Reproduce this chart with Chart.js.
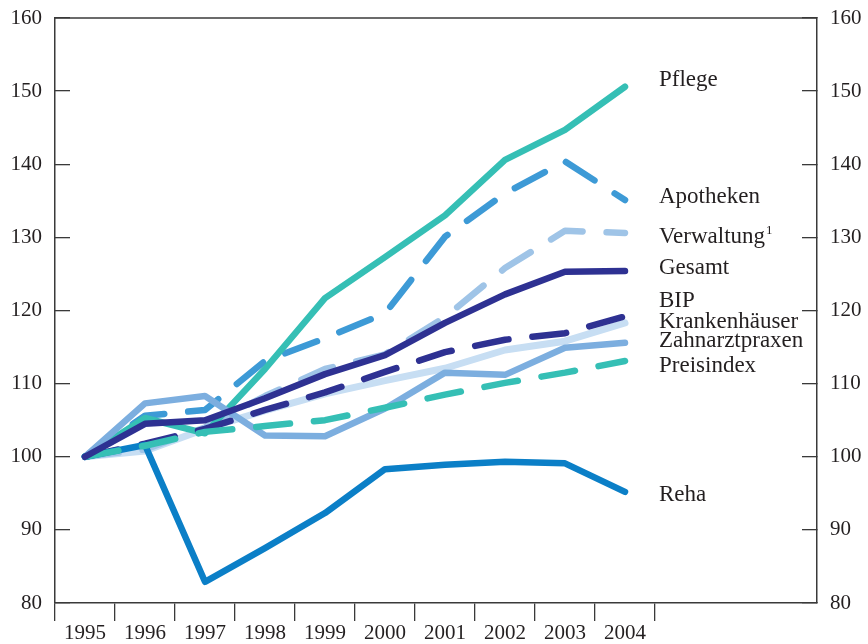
<!DOCTYPE html>
<html><head><meta charset="utf-8">
<script src="https://cdn.jsdelivr.net/npm/chart.js@4"></script>
<style>html,body{margin:0;padding:0;background:#fff}#wrap{width:868px;height:644px}</style>
</head><body><div id="wrap"><canvas id="c" width="868" height="644"></canvas></div>
<script>
const years = [1995,1996,1997,1998,1999,2000,2001,2002,2003,2004];
const pflege        = [100,105.3,103.2,112.0,121.7,127.3,133.0,140.6,144.7,150.6];
const apotheken     = [100,105.6,106.4,113.1,116.2,119.6,130.1,136.0,140.4,135.1];
const verwaltung    = [100,101.0,104.0,108.3,112.0,114.0,119.1,125.8,130.9,130.6];
const gesamt        = [100,104.5,105.0,108.0,111.3,113.9,118.3,122.2,125.3,125.4];
const bip           = [100,101.8,103.8,106.4,108.8,111.6,114.3,116.0,116.9,119.2];
const krankenhaeuser= [100,100.8,103.8,106.3,108.6,110.4,112.1,114.6,115.8,118.3];
const zahnarzt      = [100,107.3,108.3,102.9,102.8,106.6,111.5,111.2,114.9,115.6];
const preisindex    = [100,101.5,103.4,104.2,105.0,106.7,108.5,110.1,111.5,113.1];
const reha          = [100,101.6,82.9,87.5,92.3,98.3,98.9,99.3,99.1,95.2];

const yTicks = [80,90,100,110,120,130,140,150,160];
const labelNames   = ['Pflege','Apotheken','Verwaltung','Gesamt','BIP','Krankenhäuser','Zahnarztpraxen','Preisindex','Reha'];
const labelSups    = ['','','1','','','','','',''];
const labelAnchors = [151.5,135.5,130.0,125.8,121.3,118.4,115.8,112.4,94.8];

const C = {
  teal:'#35bfb5', blue:'#3d9ad6', vlight:'#9fc4e7', navy:'#2e3192',
  xlight:'#c7def3', mlight:'#7caedf', reha:'#0b7fc7'
};
const TEXT = '#231f20', AXIS = '#3a3a3a';
const DASH = [34, 24];

function pts(arr){ return years.map((x,i)=>({x:x, y:arr[i]})); }
function ds(label, arr, color, dashed, width){
  return {label, data: pts(arr), borderColor: color, backgroundColor: color,
    borderWidth: width || 6.5, borderDash: dashed ? DASH : [], pointRadius: 0,
    borderCapStyle: 'round', borderJoinStyle: 'round', tension: 0, fill: false};
}

const tickFont = {family:'"Liberation Serif", "Times New Roman", serif', size:21};
function noPad(s){ s.paddingTop = 0; s.paddingBottom = 0; s.paddingLeft = 0; s.paddingRight = 0; }

const framePlugin = {
  id:'frame',
  beforeDatasetsDraw(chart){
    const {ctx, chartArea:a} = chart;
    ctx.save();
    ctx.strokeStyle = AXIS; ctx.lineWidth = 1.5;
    ctx.beginPath(); ctx.moveTo(a.left, a.top); ctx.lineTo(a.right, a.top); ctx.stroke();
    ctx.restore();
  }
};
const labelPlugin = {
  id:'endLabels',
  afterDatasetsDraw(chart){
    const {ctx} = chart;
    const xs = chart.scales.x, ys = chart.scales.y;
    const x0 = xs.getPixelForValue(2004.5) + 4;
    ctx.save();
    ctx.fillStyle = TEXT;
    ctx.textBaseline = 'middle';
    ctx.textAlign = 'left';
    labelNames.forEach((n,i)=>{
      const y = ys.getPixelForValue(labelAnchors[i]);
      ctx.font = '23px "Liberation Serif", "Times New Roman", serif';
      ctx.fillText(n, x0, y);
      if (labelSups[i]) {
        const w = ctx.measureText(n).width;
        ctx.font = '13px "Liberation Serif", "Times New Roman", serif';
        ctx.fillText(labelSups[i], x0 + w + 1, y - 7);
      }
    });
    ctx.restore();
  }
};

new Chart(document.getElementById('c'), {
  type:'line',
  data:{ datasets:[
    ds('Gesamt', gesamt, C.navy, false),
    ds('Preisindex', preisindex, C.teal, true),
    ds('Reha', reha, C.reha, false),
    ds('BIP', bip, C.navy, true),
    ds('Zahnarztpraxen', zahnarzt, C.mlight, false),
    ds('Pflege', pflege, C.teal, false),
    ds('Apotheken', apotheken, C.blue, true),
    ds('Verwaltung', verwaltung, C.vlight, true),
    ds('Krankenhäuser', krankenhaeuser, C.xlight, false, 7)
  ]},
  options:{
    responsive:false, animation:false, devicePixelRatio:1,
    layout:{padding:{top:18, left:0, right:0, bottom:0}},
    plugins:{legend:{display:false}, tooltip:{enabled:false}},
    scales:{
      x:{type:'linear', position:'bottom', min:1994.5, max:2007.2,
        afterBuildTicks: s => { s.ticks = years.map(v=>({value:v})); },
        ticks:{callback: v => String(v), font: tickFont, color: TEXT, padding: 0, maxRotation:0, autoSkip:false},
        grid:{offset:true, drawOnChartArea:false, tickLength:18, color:AXIS, lineWidth:1.3},
        border:{color:AXIS, width:1.5},
        afterFit: s => { s.height = 41; noPad(s); }
      },
      y:{type:'linear', position:'left', min:80, max:160,
        afterBuildTicks: s => { s.ticks = yTicks.map(v=>({value:v})); },
        ticks:{font: tickFont, color: TEXT, padding: 28},
        grid:{drawOnChartArea:false, tickLength:-15, color:AXIS, lineWidth:1.3},
        border:{color:AXIS, width:1.5},
        afterFit: s => { s.width = 55; noPad(s); }
      },
      y2:{type:'linear', position:'right', min:80, max:160,
        afterBuildTicks: s => { s.ticks = yTicks.map(v=>({value:v})); },
        ticks:{font: tickFont, color: TEXT, padding: 28},
        grid:{drawOnChartArea:false, tickLength:-15, color:AXIS, lineWidth:1.3},
        border:{color:AXIS, width:1.5},
        afterFit: s => { s.width = 51; noPad(s); }
      }
    }
  },
  plugins:[framePlugin, labelPlugin]
});
</script>
</body></html>
